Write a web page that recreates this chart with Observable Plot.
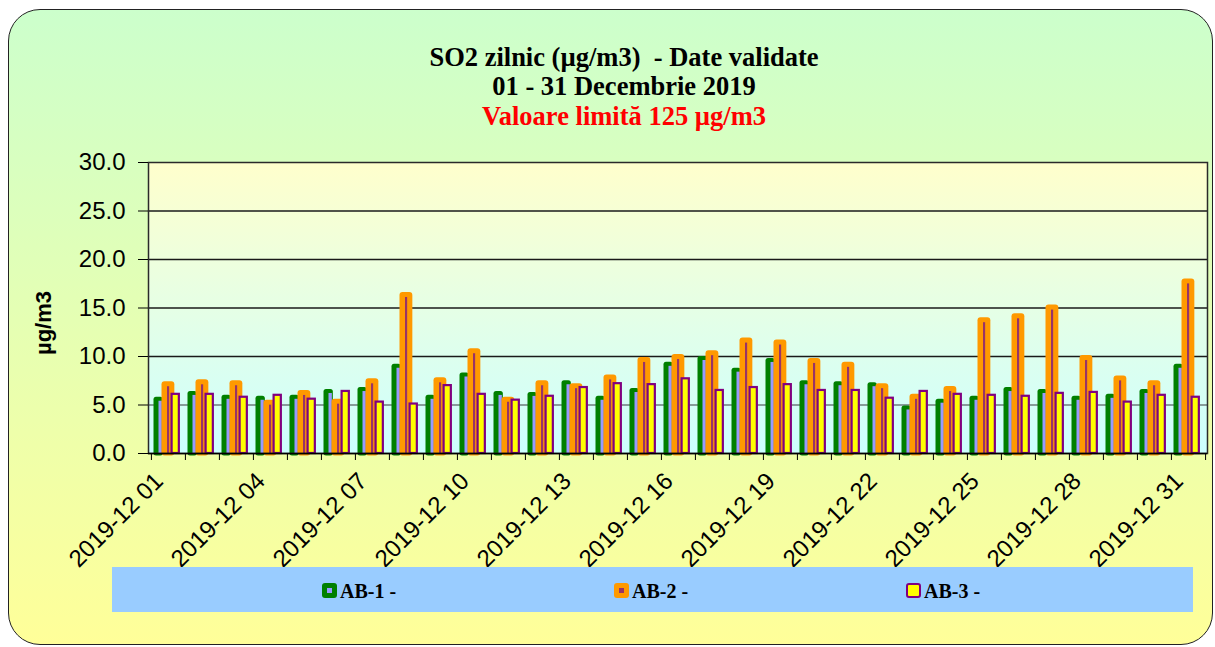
<!DOCTYPE html>
<html>
<head>
<meta charset="utf-8">
<script src="https://cdn.jsdelivr.net/npm/d3@7"></script>
<script src="https://cdn.jsdelivr.net/npm/@observablehq/plot@0.6"></script>
<style>
  html, body { margin: 0; padding: 0; background: #ffffff; }
  #root { position: relative; width: 1215px; height: 647px; overflow: hidden; font-family: Arial, "Liberation Sans", sans-serif; }
  #panel { position: absolute; left: 8px; top: 9px; width: 1203px; height: 634px; border: 1.5px solid #222; border-radius: 32px;
           background: linear-gradient(#ccffcc 0%, #ffff99 100%); }
  #plotbg { position: absolute; left: 148px; top: 162px; width: 1059px; height: 291px; background: linear-gradient(#ffffcc 0%, #ccffff 100%); }
  #title { position: absolute; left: 224px; top: 42.6px; width: 800px; text-align: center; font-family: "Liberation Serif", "Times New Roman", serif;
           font-weight: bold; font-size: 26.5px; line-height: 29.5px; white-space: pre; color: #000; }
  #title .red { color: #ff0000; }
  #chart { position: absolute; left: 0; top: 150px; }
  #chart svg { background: transparent !important; overflow: visible; }
  #legend { position: absolute; left: 112px; top: 567px; width: 1081px; height: 45px; background: #99ccff; }
  .item { position: absolute; top: 0; height: 45px; }
  .sw { position: absolute; top: 15.7px; left: 0; width: 15px; height: 15px; box-sizing: border-box; border-radius: 3px; }
  .sw i { position: absolute; display: block; }
  .lab { position: absolute; left: 18px; top: 14px; font-family: "Liberation Serif", "Times New Roman", serif; font-weight: bold; font-size: 20px; line-height: 20px; white-space: pre; color: #000; }
</style>
</head>
<body>
<div id="root">
  <div id="panel"></div>
  <div id="title"></div>
  <div id="plotbg"></div>
  <div id="chart"></div>
  <div id="legend"></div>
</div>
<script>
// ---- data ----
const days = ["2019-12 01","2019-12 02","2019-12 03","2019-12 04","2019-12 05","2019-12 06","2019-12 07","2019-12 08",
  "2019-12 09","2019-12 10","2019-12 11","2019-12 12","2019-12 13","2019-12 14","2019-12 15","2019-12 16",
  "2019-12 17","2019-12 18","2019-12 19","2019-12 20","2019-12 21","2019-12 22","2019-12 23","2019-12 24",
  "2019-12 25","2019-12 26","2019-12 27","2019-12 28","2019-12 29","2019-12 30","2019-12 31"];
const labelDays = ["2019-12 01","2019-12 04","2019-12 07","2019-12 10","2019-12 13","2019-12 16",
  "2019-12 19","2019-12 22","2019-12 25","2019-12 28","2019-12 31"];
const seriesNames = ["AB-1 -", "AB-2 -", "AB-3 -"];
const ab1 = [5.8,6.4,6.0,5.9,6.0,6.6,6.8,9.2,6.0,8.3,6.4,6.3,7.5,5.9,6.7,9.4,10.0,8.8,9.8,7.5,7.4,7.3,4.9,5.6,5.9,6.8,6.6,5.9,6.1,6.6,9.2];
const ab2 = [7.4,7.6,7.5,5.5,6.5,5.6,7.7,16.6,7.8,10.8,5.8,7.5,7.2,8.1,9.9,10.2,10.6,11.9,11.7,9.8,9.4,7.2,6.1,6.9,14.0,14.4,15.3,10.1,8.0,7.5,18.0];
const ab3 = [6.1,6.1,5.8,6.0,5.6,6.4,5.3,5.1,7.0,6.1,5.5,5.9,6.8,7.2,7.1,7.7,6.5,6.8,7.1,6.5,6.5,5.7,6.4,6.1,6.0,5.9,6.2,6.3,5.3,6.0,5.8];
const yTicks = [0, 5, 10, 15, 20, 25, 30];
const titleLines = ["SO2 zilnic (µg/m3)  - Date validate", "01 - 31 Decembrie 2019", "Valoare limită 125 µg/m3"];
const yLabel = "µg/m3";

// ---- title ----
const t = document.getElementById("title");
t.innerHTML = titleLines[0] + "\n" + titleLines[1] + "\n" + '<span class="red">' + titleLines[2] + "</span>";

// ---- chart ----
const rows = days.map((day, i) => ({day, ab1: ab1[i], ab2: ab2[i], ab3: ab3[i]}));
const W = 1215, ML = 148, MR = 8;
const bw = (W - ML - MR) / days.length;

const chart = Plot.plot({
  width: W, height: 443,
  marginTop: 12, marginBottom: 140, marginLeft: ML, marginRight: MR,
  style: {background: "transparent", fontFamily: "Arial, 'Liberation Sans', sans-serif", color: "#000", overflow: "visible"},
  x: {type: "band", domain: days, padding: 0, label: null},
  y: {domain: [0, 30], label: null},
  marks: [
    Plot.ruleY([5], {stroke: "#6e7b7b", strokeWidth: 1.6}),
    Plot.ruleY([10, 15, 20, 25], {stroke: "#1a1a1a", strokeWidth: 1.3}),
    Plot.barY(rows, {x: "day", y: "ab1", fill: "#008000", insetLeft: 2.5, insetRight: bw - 12, insetBottom: -2.5, rx: 2.5}),
    Plot.barY(rows, {x: "day", y: "ab1", fill: "#9999ff", insetLeft: 7.5, insetRight: bw - 11, insetTop: 4}),
    Plot.barY(rows, {x: "day", y: "ab2", fill: "#ff9900", insetLeft: 10.5, insetRight: bw - 23.5, insetBottom: -2.5, rx: 3}),
    Plot.barY(rows, {x: "day", y: "ab2", fill: "#993366", insetLeft: 16, insetRight: bw - 18.3, insetTop: 5}),
    Plot.barY(rows, {x: "day", y: "ab3", fill: "#ffff00", stroke: "#800080", strokeWidth: 2.2, insetLeft: 20.6, insetRight: bw - 28}),
    Plot.frame({stroke: "#2a2a2a", strokeWidth: 1.5}),
    Plot.ruleY([0], {stroke: "#000", strokeWidth: 1.5}),
    Plot.axisY({ticks: yTicks, tickFormat: d => d.toFixed(1), tickSize: 10, tickPadding: 13, fontSize: 24, label: null}),
    Plot.axisX({tickSize: 7, tickFormat: () => "", dx: -bw / 2, label: null}),
    Plot.axisX({ticks: [days[days.length - 1]], tickSize: 7, tickFormat: () => "", dx: bw / 2, label: null}),
    Plot.axisX({ticks: labelDays, tickSize: 0, tickPadding: 17, tickRotate: -45, textAnchor: "end", lineAnchor: "top",
                dx: -16, fontSize: 24, label: null}),
    Plot.text([yLabel], {text: d => d, frameAnchor: "left", textAnchor: "middle", dx: -105, dy: 15, rotate: -90, fontWeight: "bold", fontSize: 22})
  ]
});
document.getElementById("chart").appendChild(chart);

// ---- legend ----
const lg = document.getElementById("legend");
const swatches = [
  {left: 210, bg: "#008000", border: "none", inner: {bg: "#9999ff", l: 5, t: 5, w: 5, h: 5}},
  {left: 502, bg: "#ff9900", border: "none", inner: {bg: "#993366", l: 5, t: 5, w: 5, h: 5}},
  {left: 794, bg: "#ffff00", border: "2.5px solid #800080", inner: null}
];
seriesNames.forEach((name, i) => {
  const s = swatches[i];
  const item = document.createElement("div");
  item.className = "item";
  item.style.left = s.left + "px";
  const sw = document.createElement("div");
  sw.className = "sw";
  sw.style.background = s.bg;
  sw.style.border = s.border;
  if (s.inner) {
    const inn = document.createElement("i");
    inn.style.left = s.inner.l + "px"; inn.style.top = s.inner.t + "px";
    inn.style.width = s.inner.w + "px"; inn.style.height = s.inner.h + "px";
    inn.style.background = s.inner.bg;
    sw.appendChild(inn);
  }
  const lab = document.createElement("div");
  lab.className = "lab";
  lab.textContent = name;
  item.appendChild(sw);
  item.appendChild(lab);
  lg.appendChild(item);
});
</script>
</body>
</html>
